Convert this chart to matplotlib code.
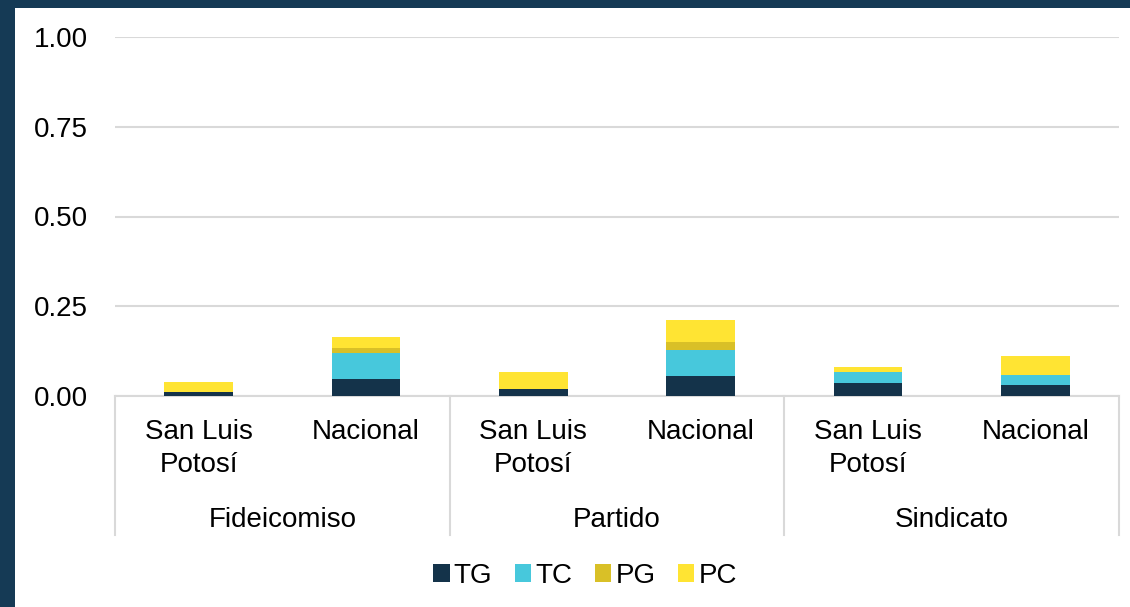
import numpy as np
import matplotlib.pyplot as plt
from matplotlib.patches import Rectangle

plt.rcParams['font.family'] = ['Liberation Sans', 'DejaVu Sans']

# Bar data per group: San Luis Potosí, Nacional
groups = ['Fideicomiso', 'Partido', 'Sindicato']
places = ['San Luis\nPotosí', 'Nacional']
series = ['TG', 'TC', 'PG', 'PC']
colors = ['#14334a', '#47c8dc', '#d9c027', '#ffe433']

TG = [0.010, 0.048, 0.019, 0.057, 0.035, 0.031]
TC = [0.000, 0.071, 0.000, 0.071, 0.031, 0.027]
PG = [0.000, 0.016, 0.000, 0.023, 0.000, 0.000]
PC = [0.030, 0.028, 0.047, 0.061, 0.014, 0.053]

W, H = 1130, 607
fig = plt.figure(figsize=(W / 100, H / 100), dpi=100)
fig.patch.set_facecolor('#153a55')
fig.patches.append(Rectangle((15 / W, 0), 1, 1 - 8 / H, transform=fig.transFigure,
                             facecolor='white', edgecolor='none', zorder=-5))

ax = fig.add_axes([115 / W, (H - 396) / H, (1119 - 115) / W, (396 - 37) / H])
ax.set_facecolor('none')

x = np.arange(len(TG))
bottom = np.zeros(len(TG))
for name, vals, c in zip(series, [TG, TC, PG, PC], colors):
    ax.bar(x, vals, width=0.41, bottom=bottom, color=c, label=name, zorder=3)
    bottom += np.array(vals)

ax.set_xlim(-0.5, len(TG) - 0.5)
ax.set_ylim(0, 1)
ax.set_yticks([0, 0.25, 0.5, 0.75, 1.0])
ax.set_yticklabels(['0.00', '0.25', '0.50', '0.75', '1.00'])
ax.tick_params(axis='y', length=0, pad=19.5, labelsize=20)
ax.set_xticks([])
ax.grid(axis='y', color='#d9d9d9', linewidth=1.5, zorder=0)
for s in ['top', 'right', 'left']:
    ax.spines[s].set_visible(False)
ax.spines['bottom'].set_color('#d9d9d9')
ax.spines['bottom'].set_linewidth(1.5)

# Two-level category axis
trans = ax.get_xaxis_transform()
for i in range(len(groups) + 1):
    ax.plot([2 * i - 0.5, 2 * i - 0.5], [0, -0.387], transform=trans,
            color='#d9d9d9', linewidth=1.5, clip_on=False)
for i, g in enumerate(groups):
    ax.text(2 * i + 0.5, -0.345, g, transform=trans, ha='center', va='center', fontsize=20)
    for j, p in enumerate(places):
        ax.text(2 * i + j, -0.064, p, transform=trans, ha='center', va='top',
                fontsize=20, linespacing=1.33)

fig.legend(loc='center', bbox_to_anchor=(585 / W, 1 - 576 / H), ncol=4, frameon=False,
           fontsize=20, handlelength=0.6, handleheight=0.6, handletextpad=0.15,
           columnspacing=0.8)

fig.savefig('out.png', dpi=100, facecolor=fig.get_facecolor())
